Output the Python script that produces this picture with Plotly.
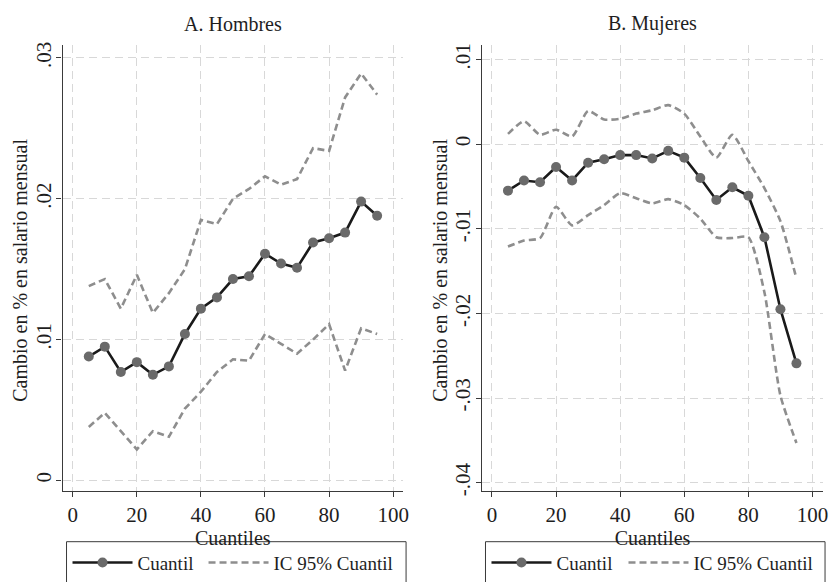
import plotly.graph_objects as go

# Quantiles at which the regressions are evaluated
quantiles = [5, 10, 15, 20, 25, 30, 35, 40, 45, 50, 55, 60, 65, 70, 75, 80, 85, 90, 95]

# Panel A: men
hombres_coef = [0.0088, 0.0095, 0.0077, 0.0084, 0.0075, 0.0081, 0.0104, 0.0122, 0.0130, 0.0143,
                0.0145, 0.0161, 0.0154, 0.0151, 0.0169, 0.0172, 0.0176, 0.0198, 0.0188]
hombres_upper = [0.0138, 0.0143, 0.0122, 0.0146, 0.0119, 0.0133, 0.0150, 0.0185, 0.0182, 0.0200,
                 0.0207, 0.0216, 0.0210, 0.0214, 0.0236, 0.0234, 0.0272, 0.0289, 0.0274]
hombres_lower = [0.0038, 0.0048, 0.0035, 0.0022, 0.0035, 0.0031, 0.0051, 0.0063, 0.0077, 0.0086,
                 0.0085, 0.0104, 0.0097, 0.0090, 0.0100, 0.0111, 0.0078, 0.0108, 0.0104]

# Panel B: women
mujeres_coef = [-0.0055, -0.0043, -0.0045, -0.0027, -0.0043, -0.0022, -0.0018, -0.0013, -0.0013, -0.0017,
                -0.0008, -0.0016, -0.0040, -0.0066, -0.0051, -0.0061, -0.0110, -0.0195, -0.0259]
mujeres_upper = [0.0012, 0.0027, 0.0011, 0.0017, 0.0009, 0.0039, 0.0029, 0.0030, 0.0036, 0.0040,
                 0.0046, 0.0036, 0.0009, -0.0016, 0.0011, -0.0020, -0.0052, -0.0091, -0.0159]
mujeres_lower = [-0.0121, -0.0114, -0.0111, -0.0074, -0.0096, -0.0084, -0.0072, -0.0058, -0.0064, -0.0070,
                 -0.0065, -0.0072, -0.0088, -0.0110, -0.0111, -0.0110, -0.0175, -0.0297, -0.0353]

# Axis ticks
x_ticks = [0, 20, 40, 60, 80, 100]
x_ticktext = ["0", "20", "40", "60", "80", "100"]
yA_ticks = [0, 0.01, 0.02, 0.03]
yA_ticktext = ["0", ".01", ".02", ".03"]
yB_ticks = [0.01, 0, -0.01, -0.02, -0.03, -0.04]
yB_ticktext = [".01", "0", "-.01", "-.02", "-.03", "-.04"]

panel_titles = ["A. Hombres", "B. Mujeres"]
y_title = "Cambio en % en salario mensual"
x_title = "Cuantiles"
name_coef = "Cuantil"
name_ci = "IC 95% Cuantil"

W, H = 836, 582
FONT = "Liberation Serif"
TXT = "#1e1e1e"
COEF_LINE = "#1a1a1a"
COEF_MARK = "#6a6a6a"
CI_COLOR = "#8e8e8e"
GRID = "#d8d8d8"
AXIS = "#3a3a3a"

# Panel frames in pixels (left, right) and shared vertical extent
PANEL_A = (63, 406)
PANEL_B = (485.5, 829)
TOP, BOTTOM = 43, 499


def px_x(v):
    return v / W


def px_y(v):
    return (H - v) / H


fig = go.Figure()


def add_panel(coef, upper, lower, xa, ya, leg_coef, leg_ci, ci_shape):
    fig.add_trace(go.Scatter(
        x=quantiles, y=coef, mode="lines+markers", name=name_coef,
        line=dict(color=COEF_LINE, width=2.6),
        marker=dict(color=COEF_MARK, size=10, line=dict(width=0)),
        xaxis=xa, yaxis=ya, legend=leg_coef, showlegend=True))
    fig.add_trace(go.Scatter(
        x=quantiles, y=upper, mode="lines", name=name_ci,
        line=dict(color=CI_COLOR, width=2.6, dash="7px,4px", shape=ci_shape, smoothing=0.6),
        xaxis=xa, yaxis=ya, legend=leg_ci, showlegend=True))
    fig.add_trace(go.Scatter(
        x=quantiles, y=lower, mode="lines", name=name_ci, showlegend=False,
        line=dict(color=CI_COLOR, width=2.6, dash="7px,4px", shape=ci_shape, smoothing=0.6),
        xaxis=xa, yaxis=ya, legend=leg_ci))


add_panel(hombres_coef, hombres_upper, hombres_lower, "x", "y", "legend", "legend3", "linear")
add_panel(mujeres_coef, mujeres_upper, mujeres_lower, "x2", "y2", "legend2", "legend4", "spline")

ydom = [px_y(BOTTOM), px_y(TOP)]
common_x = dict(
    tickvals=x_ticks, ticktext=x_ticktext, showgrid=True, gridcolor=GRID, griddash="8px,5px",
    gridwidth=1, zeroline=False, showline=True, linecolor=AXIS, linewidth=1.3,
    ticks="outside", ticklen=5, tickcolor=AXIS, tickwidth=1.3,
    tickfont=dict(family=FONT, size=21, color=TXT),
    title=dict(text=x_title, font=dict(family=FONT, size=20, color=TXT), standoff=0),
)
common_y = dict(
    showgrid=True, gridcolor=GRID, griddash="8px,5px", gridwidth=1, zeroline=False,
    showline=True, linecolor=AXIS, linewidth=1.3, ticks="outside", ticklen=5,
    tickcolor=AXIS, tickwidth=1.3, tickangle=-90, ticklabelstandoff=-3,
    tickfont=dict(family=FONT, size=21, color=TXT),
)

# One legend per entry so each sits where it belongs inside its frame
legend_common = dict(
    orientation="h", xanchor="left", yanchor="top", y=px_y(553),
    borderwidth=0, bgcolor="rgba(0,0,0,0)", itemwidth=60, visible=True,
    font=dict(family=FONT, size=19, color=TXT),
)

annotations = []
for title, (l, r), ytx in zip(panel_titles, [PANEL_A, PANEL_B], [20, 443]):
    annotations.append(dict(
        text=title, x=px_x((l + r) / 2), y=px_y(21), xref="paper", yref="paper",
        showarrow=False, xanchor="center", yanchor="middle",
        font=dict(family=FONT, size=20, color=TXT)))
    annotations.append(dict(
        text=y_title, x=px_x(ytx), y=px_y((TOP + BOTTOM) / 2 + 2), xref="paper", yref="paper",
        showarrow=False, xanchor="center", yanchor="middle", textangle=-90,
        font=dict(family=FONT, size=20, color=TXT)))

# Legend frames, open at the bottom edge of the figure
shapes = []
for l, r in [(67, 409), (489, 831)]:
    shapes.append(dict(type="rect", xref="paper", yref="paper",
                       x0=px_x(l), x1=px_x(r), y0=px_y(551), y1=px_y(600),
                       line=dict(color=AXIS, width=1), fillcolor="rgba(0,0,0,0)"))

fig.update_layout(
    width=W, height=H,
    margin=dict(l=0, r=0, t=0, b=0),
    paper_bgcolor="white", plot_bgcolor="white",
    font=dict(family=FONT, color=TXT),
    showlegend=True,
    xaxis=dict(domain=[px_x(PANEL_A[0]), px_x(PANEL_A[1])], range=[-3.19, 103.1], anchor="y", **common_x),
    yaxis=dict(domain=ydom, range=[-0.00074, 0.03092], anchor="x",
               tickvals=yA_ticks, ticktext=yA_ticktext, **common_y),
    xaxis2=dict(domain=[px_x(PANEL_B[0]), px_x(PANEL_B[1])], range=[-3.1, 103.3], anchor="y2", **common_x),
    yaxis2=dict(domain=ydom, range=[-0.04096, 0.0117], anchor="x2",
                tickvals=yB_ticks, ticktext=yB_ticktext, **common_y),
    legend=dict(x=px_x(68), **legend_common),
    legend3=dict(x=px_x(205), **legend_common),
    legend2=dict(x=px_x(490), **legend_common),
    legend4=dict(x=px_x(628), **legend_common),
    annotations=annotations,
    shapes=shapes,
)

fig.write_html("out.html")
